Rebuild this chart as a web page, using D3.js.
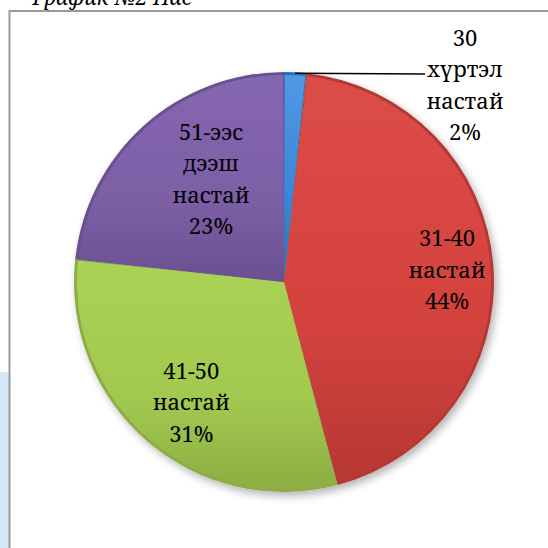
<!DOCTYPE html>
<html><head><meta charset="utf-8">
<script src="https://cdn.jsdelivr.net/npm/d3@7"></script>
<style>html,body{margin:0;padding:0;background:#fff;overflow:hidden}</style>
</head><body>
<svg id="c" width="548" height="548"></svg>
<script>
const categories = ["30 хүртэл настай", "31-40 настай", "41-50 настай", "51-ээс дээш настай"];
const labelLines = [["30", "хүртэл", "настай"], ["31-40", "настай"], ["41-50", "настай"], ["51-ээс", "дээш", "настай"]];
const values = [1.7, 44.2, 30.8, 23.3];
const percentLabels = ["2%", "44%", "31%", "23%"];
const colors = [
  {base:"#3a86d6", light:"#4f98e4", dark:"#2f70b8"},
  {base:"#d4423e", light:"#dc4c48", dark:"#b63834"},
  {base:"#a2c94f", light:"#aad255", dark:"#8cae44"},
  {base:"#7d5fa6", light:"#8566b0", dark:"#6a5090"}
];

const FONT = '"Noto Serif"';
const svg = d3.select("#c");
const cx = 284, cy = 282, R = 210;

// faint background strip at left
svg.append("rect").attr("x",0).attr("y",372).attr("width",9).attr("height",176).attr("fill","#d6e7f7");
// frame
svg.append("rect").attr("x",9.5).attr("y",11).attr("width",560).attr("height",560)
  .attr("fill","#fff").attr("stroke","#9a9a9a").attr("stroke-width",2);
// caption (clipped at top, as in the source)
svg.append("text").attr("x",192).attr("y",5).attr("text-anchor","end").style("font-family",FONT)
  .attr("font-style","italic").attr("font-size",21).attr("fill","#000").text("График №2 Нас");

const defs = svg.append("defs");
const sh = defs.append("filter").attr("id","sh").attr("x","-20%").attr("y","-20%").attr("width","140%").attr("height","140%");
sh.append("feGaussianBlur").attr("in","SourceAlpha").attr("stdDeviation",4).attr("result","b");
sh.append("feOffset").attr("in","b").attr("dx",3).attr("dy",4).attr("result","o");
sh.append("feComponentTransfer").attr("in","o").attr("result","o2")
  .append("feFuncA").attr("type","linear").attr("slope",0.3);
const mg = sh.append("feMerge");
mg.append("feMergeNode").attr("in","o2");
mg.append("feMergeNode").attr("in","SourceGraphic");

colors.forEach((c,i)=>{
  const g = defs.append("linearGradient").attr("id","g"+i).attr("x1",0).attr("y1",0).attr("x2",0).attr("y2",1);
  g.append("stop").attr("offset","0%").attr("stop-color",c.light);
  g.append("stop").attr("offset","60%").attr("stop-color",c.base);
  g.append("stop").attr("offset","100%").attr("stop-color",c.dark);
});

const pie = d3.pie().sort(null).value(d=>d)(values);
const arc = d3.arc().innerRadius(0).outerRadius(R);

const gp = svg.append("g").attr("transform",`translate(${cx},${cy})`);
const gs = gp.append("g").attr("filter","url(#sh)");
gs.selectAll("path.s").data(pie).join("path").attr("class","s")
  .attr("d",arc).attr("fill",(d,i)=>colors[i].dark);
gp.selectAll("path.b").data(pie).join("path").attr("class","b")
  .attr("d",d=>d3.arc().innerRadius(0).outerRadius(R-3).padAngle(0.008).padRadius(R)(d))
  .attr("fill",(d,i)=>`url(#g${i})`);

const fs = 22, lh = 31.5;
const labelR = [0, 0.75, 0.75, 0.62];
const nudge = [[0,0],[6,0],[10,1],[14,-6]];
pie.forEach((d,i)=>{
  const lines = labelLines[i].concat([percentLabels[i]]);
  let x, y;
  const a = (d.startAngle + d.endAngle)/2;
  if (i === 0) {
    x = 465; y = 38;
    const px = cx + Math.sin(a)*R, py = cy - Math.cos(a)*R;
    svg.append("line").attr("x1",px).attr("y1",py+1).attr("x2",425).attr("y2",74)
      .attr("stroke","#000").attr("stroke-width",1.6);
  } else {
    const r = R*labelR[i];
    x = cx + Math.sin(a)*r + nudge[i][0];
    const yc = cy - Math.cos(a)*r + nudge[i][1];
    y = yc - (lines.length-1)*lh/2;
  }
  lines.forEach((l,k)=>{
    svg.append("text").style("font-family",FONT).attr("font-size",fs).attr("fill","#000")
      .attr("text-anchor","middle").attr("x",x).attr("y",y+k*lh).attr("dy","0.35em").text(l);
  });
});
</script>
</body></html>
